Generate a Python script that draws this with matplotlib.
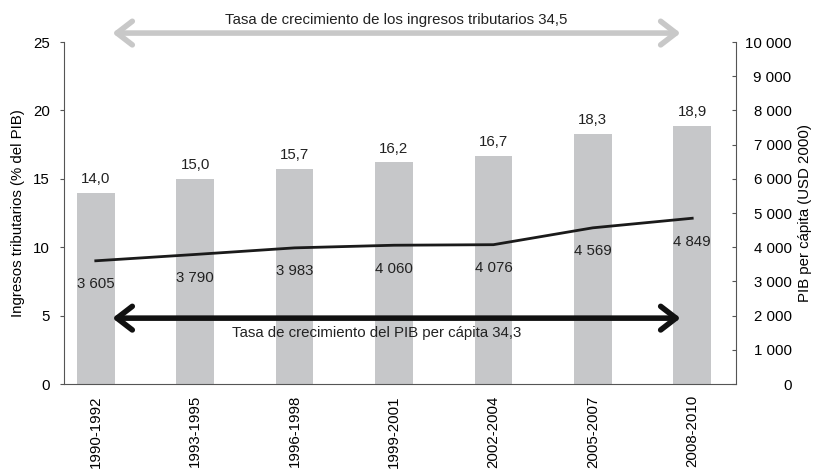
import numpy as np
import matplotlib.pyplot as plt

plt.rcParams['font.family'] = ['Liberation Sans', 'DejaVu Sans']

periodos = ["1990-1992", "1993-1995", "1996-1998", "1999-2001", "2002-2004", "2005-2007", "2008-2010"]
ingresos = [14.0, 15.0, 15.7, 16.2, 16.7, 18.3, 18.9]
pib_pc = [3605, 3790, 3983, 4060, 4076, 4569, 4849]

gris = "#c6c7c9"
eje = "#555555"
fs = 10.8

def fmt_miles(v):
    return "{:,}".format(int(v)).replace(",", " ")

fig = plt.figure(figsize=(8.15, 4.73), dpi=100)
ax = fig.add_axes([0.0785, 0.188, 0.8245, 0.723])
x = np.arange(len(periodos))

ax.bar(x, ingresos, width=0.38, color=gris, zorder=1)
for xi, v in zip(x, ingresos):
    ax.annotate(("%.1f" % v).replace(".", ","), (xi, v), xytext=(0, 5), textcoords="offset points",
                ha="center", va="bottom", fontsize=fs, color="#222222")

ax.set_xlim(-0.32, 6.44)
ax.set_ylim(0, 25)
ax.set_yticks(range(0, 26, 5))
ax.set_xticks(x)
ax.set_xticklabels(periodos, rotation=90, fontsize=fs)
ax.tick_params(axis="x", length=0, pad=8)
ax.tick_params(axis="y", direction="out", length=3, labelsize=fs, pad=7, color=eje)
ax.set_ylabel("Ingresos tributarios (% del PIB)", fontsize=fs, labelpad=6)
ax.spines["top"].set_visible(False)
ax.spines["right"].set_visible(False)
for s in ["left", "bottom"]:
    ax.spines[s].set_color(eje)

ax2 = ax.twinx()
ax2.plot(x, pib_pc, color="#1a1a1a", lw=2, zorder=3)
for xi, v in zip(x, pib_pc):
    ax2.annotate(fmt_miles(v), (xi, v), xytext=(0, -17), textcoords="offset points",
                 ha="center", va="center", fontsize=fs, color="#222222")
ax2.set_ylim(0, 10000)
ax2.set_yticks(range(0, 10001, 1000))
ax2.set_yticklabels([fmt_miles(v) for v in range(0, 10001, 1000)])
ax2.tick_params(axis="y", direction="in", length=3, labelsize=fs, pad=40, color=eje)
for lab in ax2.get_yticklabels():
    lab.set_ha("right")
ax2.set_ylabel("PIB per cápita (USD 2000)", fontsize=fs, labelpad=5)
ax2.spines["top"].set_visible(False)
ax2.spines["left"].set_visible(False)
ax2.spines["bottom"].set_visible(False)
ax2.spines["right"].set_color(eje)

# flechas de tasas de crecimiento
estilo = "<->,head_length=1.1,head_width=0.85"
ax.annotate("", xy=(0.14, 25.66), xytext=(5.91, 25.66), annotation_clip=False,
            arrowprops=dict(arrowstyle=estilo, color="#c8c8c8", lw=4))
ax.text(3.02, 26.65, "Tasa de crecimiento de los ingresos tributarios 34,5", ha="center", va="center",
        fontsize=fs, color="#222222")

ax.annotate("", xy=(0.14, 4.82), xytext=(5.91, 4.82),
            arrowprops=dict(arrowstyle=estilo, color="#111111", lw=4), zorder=5)
ax.text(2.83, 3.7, "Tasa de crecimiento del PIB per cápita 34,3", ha="center", va="center",
        fontsize=fs, color="#222222", zorder=5)

fig.savefig("out.png", dpi=100)
